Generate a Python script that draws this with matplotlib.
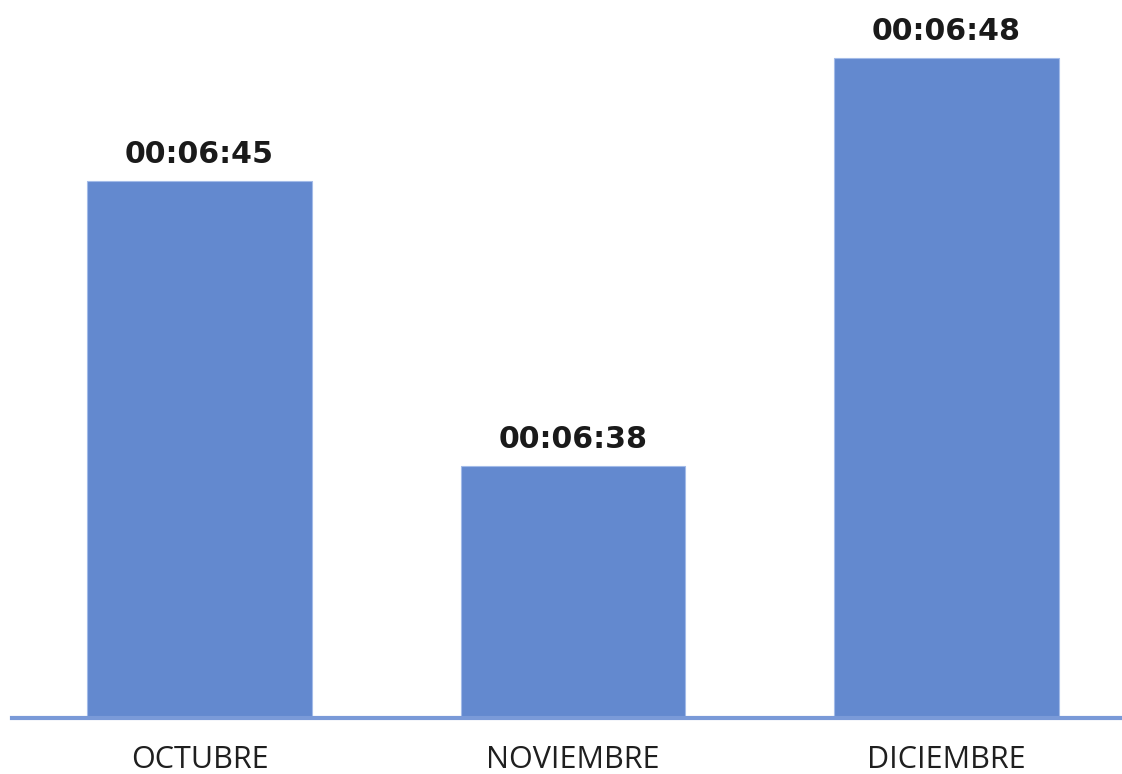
import matplotlib.pyplot as plt

# Average duration per month, in seconds
months = ["OCTUBRE", "NOVIEMBRE", "DICIEMBRE"]
seconds = [405, 398, 408]


def fmt_hms(s):
    return f"{s // 3600:02d}:{(s % 3600) // 60:02d}:{s % 60:02d}"


fig = plt.figure(figsize=(11.22, 7.74), dpi=100)
ax = fig.add_axes([12 / 1122, 56 / 774, 1110 / 1122, 718 / 774])

x = range(len(months))
ax.bar(x, seconds, width=0.602, bottom=0, color="#6389CF",
       edgecolor="#A3BBE8", linewidth=0.8, zorder=2)

ax.set_xlim(-0.502, 2.470)
ax.set_ylim(391.84, 409.42)

for xi, s in zip(x, seconds):
    ax.annotate(fmt_hms(s), (xi, s), xytext=(0, 12), textcoords="offset pixels",
                ha="center", va="bottom", fontsize=21.6, fontweight="bold",
                family="DejaVu Sans", color="#1a1a1a")

for side in ["top", "right", "left"]:
    ax.spines[side].set_visible(False)
ax.spines["bottom"].set_color("#7A9AD8")
ax.spines["bottom"].set_linewidth(3)
ax.spines["bottom"].set_zorder(3)

ax.set_yticks([])
ax.set_xticks(list(x))
ax.set_xticklabels(months, fontsize=22, family="Open Sans", color="#1f1f1f")
ax.tick_params(axis="x", length=0, pad=19.5)

fig.savefig("out.png", dpi=100)
